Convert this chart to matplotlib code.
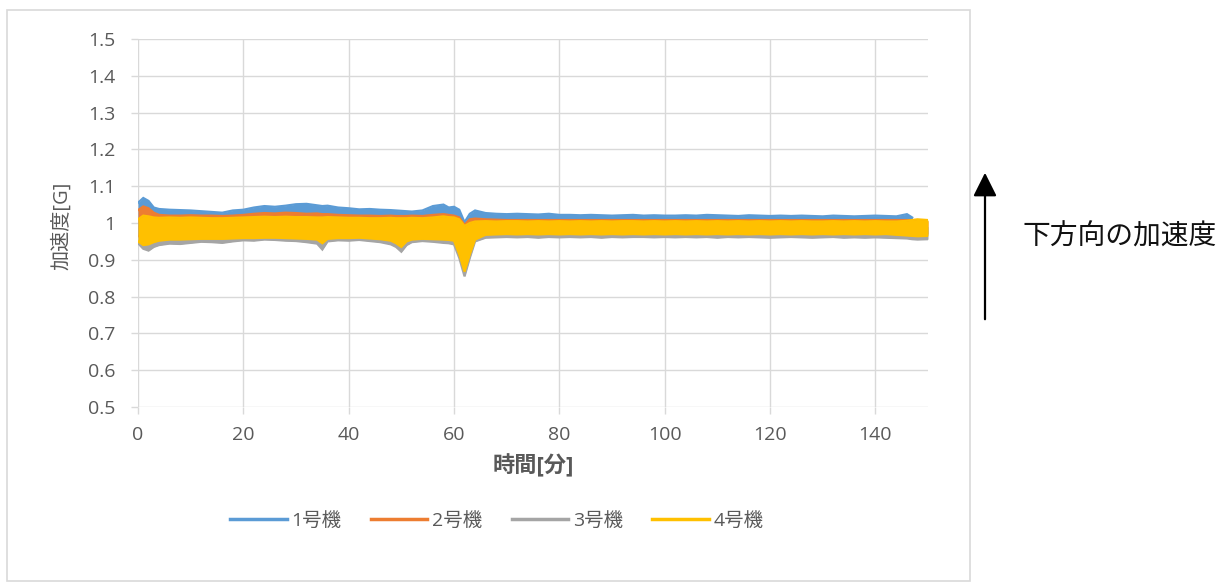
import numpy as np
import matplotlib
matplotlib.use("Agg")
import matplotlib.pyplot as plt
from matplotlib.patches import Rectangle, FancyArrowPatch
from matplotlib.lines import Line2D

plt.rcParams['font.family'] = ['Open Sans', 'Noto Sans CJK JP', 'DejaVu Sans']

nan = np.nan

# time [min]
time_min = [
    0, 1, 2, 3, 4, 6, 8, 10, 12, 14,
    16, 18, 20, 22, 24, 26, 28, 30, 32, 34,
    35, 36, 38, 40, 42, 44, 46, 48, 49, 50,
    51, 52, 54, 56, 58, 59, 60, 61, 62, 63,
    64, 66, 68, 70, 72, 74, 76, 78, 80, 82,
    84, 86, 88, 90, 92, 94, 96, 98, 100, 102,
    104, 106, 108, 110, 112, 114, 116, 118, 120, 122,
    124, 126, 128, 130, 132, 134, 136, 138, 140, 142,
    144, 146, 147, 148, 150,
]

# 1号機 envelope
unit1_hi = [
    1.055, 1.068, 1.060, 1.042, 1.038, 1.036, 1.035, 1.034, 1.032, 1.030,
    1.028, 1.034, 1.036, 1.042, 1.046, 1.044, 1.047, 1.051, 1.052, 1.048,
    1.046, 1.047, 1.042, 1.040, 1.037, 1.038, 1.036, 1.035, 1.034, 1.033,
    1.032, 1.031, 1.034, 1.046, 1.050, 1.042, 1.044, 1.036, 1.002, 1.025,
    1.034, 1.027, 1.025, 1.024, 1.025, 1.024, 1.023, 1.025, 1.022, 1.022,
    1.021, 1.022, 1.021, 1.020, 1.021, 1.022, 1.020, 1.021, 1.020, 1.020,
    1.021, 1.020, 1.022, 1.021, 1.020, 1.019, 1.021, 1.020, 1.019, 1.020,
    1.019, 1.020, 1.019, 1.018, 1.020, 1.019, 1.018, 1.019, 1.020, 1.019,
    1.018, 1.024, 1.015, nan, nan,
]
unit1_lo = [
    0.965, 0.960, 0.960, 0.962, 0.965, 0.965, 0.965, 0.965, 0.965, 0.965,
    0.965, 0.965, 0.965, 0.965, 0.965, 0.965, 0.965, 0.965, 0.965, 0.965,
    0.960, 0.965, 0.965, 0.965, 0.965, 0.965, 0.965, 0.960, 0.955, 0.950,
    0.960, 0.965, 0.965, 0.965, 0.965, 0.962, 0.960, 0.930, 0.900, 0.930,
    0.965, 0.972, 0.972, 0.972, 0.972, 0.972, 0.972, 0.972, 0.972, 0.972,
    0.972, 0.972, 0.972, 0.972, 0.972, 0.972, 0.972, 0.972, 0.972, 0.972,
    0.972, 0.972, 0.972, 0.972, 0.972, 0.972, 0.972, 0.972, 0.972, 0.972,
    0.972, 0.972, 0.972, 0.972, 0.972, 0.972, 0.972, 0.972, 0.972, 0.972,
    0.972, 0.970, 0.970, nan, nan,
]

# 2号機 envelope
unit2_hi = [
    1.035, 1.045, 1.040, 1.028, 1.022, 1.020, 1.020, 1.021, 1.020, 1.020,
    1.019, 1.020, 1.022, 1.025, 1.027, 1.026, 1.028, 1.027, 1.025, 1.026,
    1.024, 1.024, 1.022, 1.021, 1.020, 1.020, 1.019, 1.020, 1.019, 1.019,
    1.019, 1.020, 1.019, 1.022, 1.024, 1.022, 1.020, 1.015, 0.995, 1.010,
    1.012, 1.010, 1.009, 1.008, 1.008, 1.008, 1.008, 1.008, 1.008, 1.008,
    1.008, 1.008, 1.008, 1.008, 1.008, 1.008, 1.008, 1.008, 1.008, 1.008,
    1.008, 1.008, 1.008, 1.008, 1.008, 1.008, 1.008, 1.008, 1.008, 1.008,
    1.008, 1.008, 1.008, 1.008, 1.008, 1.008, 1.008, 1.008, 1.008, 1.008,
    1.008, 1.008, 1.008, 1.008, 1.006,
]
unit2_lo = [
    0.965, 0.960, 0.960, 0.962, 0.965, 0.965, 0.965, 0.965, 0.965, 0.965,
    0.965, 0.965, 0.965, 0.965, 0.965, 0.965, 0.965, 0.965, 0.965, 0.965,
    0.960, 0.965, 0.965, 0.965, 0.965, 0.965, 0.965, 0.960, 0.955, 0.950,
    0.960, 0.965, 0.965, 0.965, 0.965, 0.962, 0.960, 0.930, 0.900, 0.930,
    0.965, 0.972, 0.972, 0.972, 0.972, 0.972, 0.972, 0.972, 0.972, 0.972,
    0.972, 0.972, 0.972, 0.972, 0.972, 0.972, 0.972, 0.972, 0.972, 0.972,
    0.972, 0.972, 0.972, 0.972, 0.972, 0.972, 0.972, 0.972, 0.972, 0.972,
    0.972, 0.972, 0.972, 0.972, 0.972, 0.972, 0.972, 0.972, 0.972, 0.972,
    0.972, 0.970, 0.970, 0.970, 0.970,
]

# 3号機 envelope
unit3_hi = [
    0.995, 0.995, 0.995, 0.995, 0.995, 0.995, 0.995, 0.995, 0.995, 0.995,
    0.995, 0.995, 0.995, 0.995, 0.995, 0.995, 0.995, 0.995, 0.995, 0.995,
    0.990, 0.995, 0.995, 0.995, 0.995, 0.995, 0.995, 0.995, 0.990, 0.990,
    0.995, 0.995, 0.995, 0.995, 0.995, 0.995, 0.995, 0.985, 0.970, 0.985,
    0.990, 0.988, 0.988, 0.988, 0.988, 0.988, 0.988, 0.988, 0.988, 0.988,
    0.988, 0.988, 0.988, 0.988, 0.988, 0.988, 0.988, 0.988, 0.988, 0.988,
    0.988, 0.988, 0.988, 0.988, 0.988, 0.988, 0.988, 0.988, 0.988, 0.988,
    0.988, 0.988, 0.988, 0.988, 0.988, 0.988, 0.988, 0.988, 0.988, 0.988,
    0.988, 0.988, 0.988, 0.990, 0.990,
]
unit3_lo = [
    0.945, 0.930, 0.925, 0.935, 0.940, 0.944, 0.943, 0.946, 0.949, 0.948,
    0.946, 0.950, 0.953, 0.952, 0.955, 0.954, 0.952, 0.951, 0.948, 0.944,
    0.928, 0.950, 0.953, 0.952, 0.954, 0.951, 0.948, 0.942, 0.935, 0.922,
    0.940, 0.948, 0.951, 0.949, 0.946, 0.945, 0.942, 0.905, 0.855, 0.905,
    0.950, 0.960, 0.961, 0.962, 0.961, 0.962, 0.960, 0.962, 0.961, 0.962,
    0.961, 0.962, 0.960, 0.962, 0.961, 0.962, 0.962, 0.961, 0.962, 0.961,
    0.962, 0.961, 0.962, 0.960, 0.962, 0.961, 0.962, 0.961, 0.960, 0.961,
    0.962, 0.961, 0.960, 0.961, 0.962, 0.960, 0.961, 0.960, 0.961, 0.960,
    0.959, 0.958, 0.956, 0.955, 0.956,
]

# 4号機 envelope
unit4_hi = [
    1.010, 1.020, 1.018, 1.015, 1.014, 1.015, 1.014, 1.015, 1.014, 1.013,
    1.013, 1.014, 1.015, 1.016, 1.017, 1.016, 1.017, 1.016, 1.016, 1.015,
    1.015, 1.016, 1.015, 1.014, 1.014, 1.013, 1.013, 1.014, 1.013, 1.013,
    1.013, 1.014, 1.013, 1.015, 1.018, 1.016, 1.015, 1.010, 0.992, 1.000,
    1.004, 1.005, 1.004, 1.005, 1.005, 1.004, 1.005, 1.004, 1.005, 1.004,
    1.005, 1.004, 1.005, 1.004, 1.005, 1.005, 1.004, 1.005, 1.004, 1.005,
    1.004, 1.005, 1.004, 1.005, 1.004, 1.005, 1.004, 1.005, 1.004, 1.005,
    1.004, 1.005, 1.004, 1.004, 1.005, 1.004, 1.005, 1.004, 1.005, 1.004,
    1.004, 1.006, 1.008, 1.010, 1.008,
]
unit4_lo = [
    0.950, 0.940, 0.942, 0.948, 0.952, 0.955, 0.955, 0.956, 0.957, 0.957,
    0.957, 0.958, 0.959, 0.959, 0.960, 0.960, 0.959, 0.958, 0.957, 0.955,
    0.945, 0.957, 0.959, 0.959, 0.960, 0.958, 0.956, 0.952, 0.945, 0.935,
    0.950, 0.955, 0.957, 0.956, 0.955, 0.954, 0.952, 0.915, 0.868, 0.915,
    0.955, 0.968, 0.969, 0.970, 0.969, 0.970, 0.969, 0.970, 0.969, 0.970,
    0.969, 0.970, 0.969, 0.970, 0.969, 0.970, 0.969, 0.970, 0.969, 0.970,
    0.969, 0.970, 0.969, 0.970, 0.969, 0.970, 0.969, 0.970, 0.969, 0.970,
    0.969, 0.970, 0.969, 0.970, 0.969, 0.970, 0.969, 0.970, 0.969, 0.970,
    0.968, 0.966, 0.965, 0.964, 0.965,
]

series_names = ['1号機', '2号機', '3号機', '4号機']
series_colors = ['#5B9BD5', '#ED7D31', '#A5A5A5', '#FFC000']
series_hi = [unit1_hi, unit2_hi, unit3_hi, unit4_hi]
series_lo = [unit1_lo, unit2_lo, unit3_lo, unit4_lo]

x_ticks = [0, 20, 40, 60, 80, 100, 120, 140]
y_ticks = [0.5, 0.6, 0.7, 0.8, 0.9, 1.0, 1.1, 1.2, 1.3, 1.4, 1.5]
y_tick_labels = ['0.5', '0.6', '0.7', '0.8', '0.9', '1', '1.1', '1.2', '1.3', '1.4', '1.5']

W, H = 1230, 583
fig = plt.figure(figsize=(W / 100, H / 100), dpi=100)
ax = fig.add_axes([138 / W, 1 - 407 / H, (928 - 138) / W, (407 - 39) / H])

t = np.array(time_min, dtype=float)
for name, col, hi, lo in zip(series_names, series_colors, series_hi, series_lo):
    hi = np.array(hi, dtype=float)
    lo = np.array(lo, dtype=float)
    assert len(hi) == len(t) and len(lo) == len(t)
    ax.fill_between(t, lo, hi, color=col, lw=0, zorder=3)
    ax.plot(t, hi, color=col, lw=1.6, zorder=3, solid_joinstyle='miter')
    ax.plot(t, lo, color=col, lw=1.6, zorder=3, solid_joinstyle='miter')

ax.set_xlim(0, 150)
ax.set_ylim(0.5, 1.5)
ax.set_xticks(x_ticks)
ax.set_yticks(y_ticks)
ax.set_yticklabels(y_tick_labels)
grid_c = '#D9D9D9'
ax.grid(True, color=grid_c, lw=1.0, zorder=0)
ax.set_axisbelow(True)
for s in ax.spines.values():
    s.set_visible(False)
ax.tick_params(axis='both', colors=grid_c, labelcolor='#595959', labelsize=14,
               length=5, width=1.0)
ax.tick_params(axis='x', pad=9)
ax.tick_params(axis='y', pad=11)

fig.text(62 / W, 1 - 226 / H, '加速度[G]', rotation=90, ha='center', va='center',
         fontsize=14.5, color='#595959')
fig.text(533 / W, 1 - 466 / H, '時間[分]', ha='center', va='center',
         fontsize=16, color='#595959', fontweight='bold')

handles = [Line2D([0], [0], color=c, lw=2.5) for c in series_colors]
fig.legend(handles, series_names, loc='center', bbox_to_anchor=(497 / W, 1 - 521 / H),
           ncol=4, frameon=False, fontsize=14, handlelength=2.9, handletextpad=0.25,
           columnspacing=1.5, labelcolor='#595959')

fig.add_artist(Rectangle((7 / W, 2 / H), (970 - 7) / W, (581 - 10) / H,
                         transform=fig.transFigure, fill=False, edgecolor=grid_c, lw=1.2))

arrow = FancyArrowPatch((985 / W, 1 - 322 / H), (985 / W, 1 - 170 / H),
                        transform=fig.transFigure, arrowstyle='-|>,head_length=0.9,head_width=0.45',
                        mutation_scale=16, color='black', lw=1.6)
fig.add_artist(arrow)
fig.text(1022 / W, 1 - 237 / H, '下方向の加速度', ha='left', va='center', fontsize=20,
         color='#111111', family=['Noto Sans CJK JP', 'DejaVu Sans'])

fig.savefig('out.png', dpi=100)
